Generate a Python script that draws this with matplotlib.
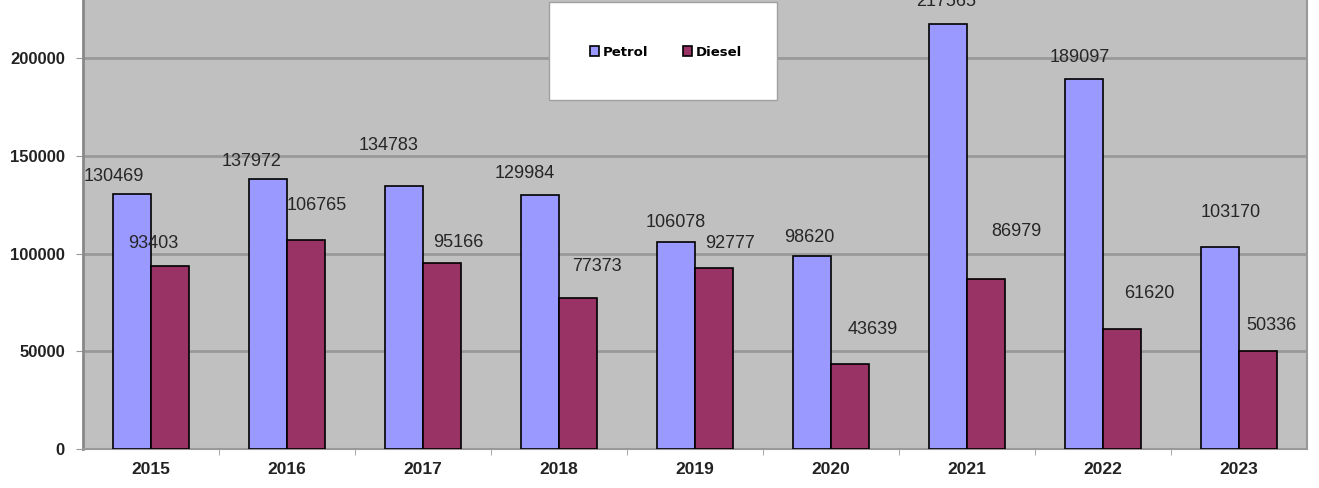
import matplotlib.pyplot as plt
import matplotlib.patches as mpatches
import numpy as np

years = ['2015', '2016', '2017', '2018', '2019', '2020', '2021', '2022', '2023']
petrol = [130469, 137972, 134783, 129984, 106078, 98620, 217565, 189097, 103170]
diesel = [93403, 106765, 95166, 77373, 92777, 43639, 86979, 61620, 50336]

# label offsets in pixels (hand placed in the original)
petrol_off = [(-18, 17), (-16, 18), (-15, 40), (-15, 21), (0, 19), (-2, 19), (-2, 22), (-4, 22), (11, 35)]
diesel_off = [(-17, 23), (11, 35), (16, 20), (19, 31), (16, 24), (23, 34), (30, 47), (27, 35), (13, 25)]

plt.rcParams['font.family'] = ['Liberation Sans', 'DejaVu Sans']

fig = plt.figure(figsize=(13.19, 4.88), dpi=100)
ax = fig.add_axes([83/1319, 39/488, 1224/1319, 1 - 39/488])
ax.set_facecolor('#C0C0C0')

x = np.arange(len(years))
w = 0.283
b1 = ax.bar(x - w/2, petrol, w, color='#9999FF', edgecolor='black', linewidth=1.2, label='Petrol', zorder=3)
b2 = ax.bar(x + w/2, diesel, w, color='#993366', edgecolor='black', linewidth=1.2, label='Diesel', zorder=3)

for xi, v, off in zip(x - w/2, petrol, petrol_off):
    ax.annotate(str(v), (xi, v), xytext=off, textcoords='offset pixels', ha='center', va='center',
                fontsize=13, color='#262626', annotation_clip=False)
for xi, v, off in zip(x + w/2, diesel, diesel_off):
    ax.annotate(str(v), (xi, v), xytext=off, textcoords='offset pixels', ha='center', va='center',
                fontsize=13, color='#262626', annotation_clip=False)

ax.set_xlim(-0.5, len(years) - 0.5)
ax.set_ylim(0, 229700)
ax.set_yticks([0, 50000, 100000, 150000, 200000])
ax.set_yticklabels(['0', '50000', '100000', '150000', '200000'], fontweight='bold', fontsize=12, color='#222222')
ax.set_xticks(x)
ax.set_xticklabels(years, fontweight='bold', fontsize=12.5, color='#222222')
ax.tick_params(axis='x', length=0, pad=9)
ax.set_xticks(x[:-1] + 0.5, minor=True)
ax.tick_params(axis='x', which='minor', length=4, color='#999999')
ax.tick_params(axis='y', length=5, color='#999999', pad=8)
ax.yaxis.grid(True, color='#999999', linewidth=2, zorder=1)
ax.set_axisbelow(True)
ax.spines['top'].set_visible(False)
ax.spines['left'].set_color('#888888')
ax.spines['left'].set_linewidth(2)
ax.spines['bottom'].set_color('#999999')
ax.spines['bottom'].set_linewidth(1.5)
ax.spines['right'].set_color('#999999')
ax.spines['right'].set_linewidth(1.5)

# legend box
box = mpatches.Rectangle((549/1319, 1 - 100/488), 228/1319, 98/488, transform=fig.transFigure,
                         facecolor='white', edgecolor='#A0A0A0', linewidth=1, zorder=4)
fig.patches.append(box)
fig.legend(handles=[b1, b2], loc='center', bbox_to_anchor=(666/1319, 1 - 52/488), ncol=2,
           frameon=False, handlelength=0.7, handleheight=0.7, handletextpad=0.3, columnspacing=2.6,
           prop={'family': 'DejaVu Sans', 'weight': 'bold', 'size': 9.5})

plt.savefig('out.png', dpi=100)
